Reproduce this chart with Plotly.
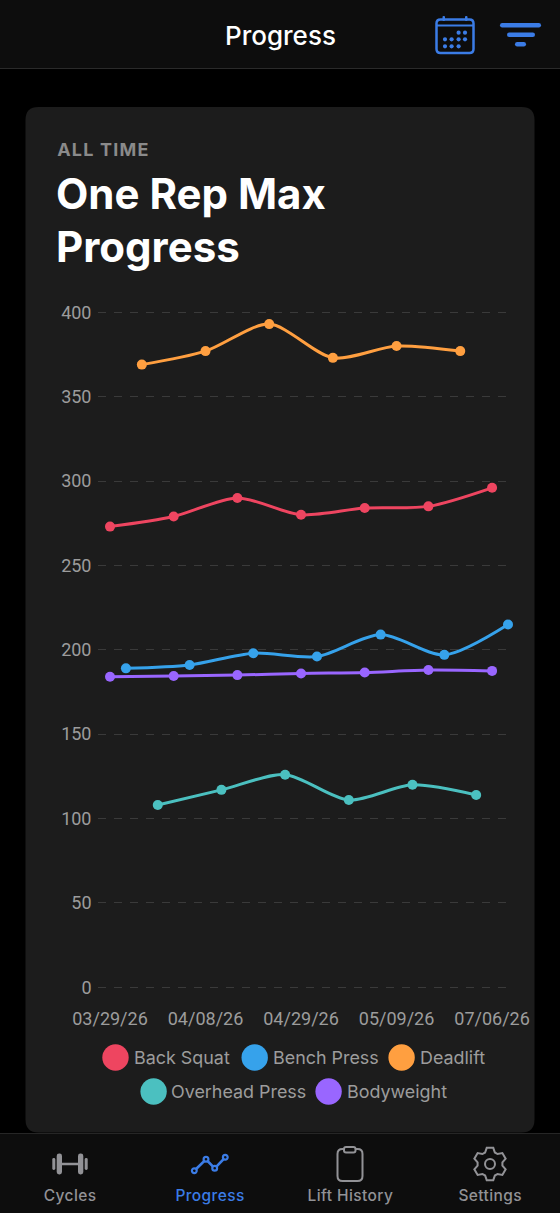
import math
import plotly.graph_objects as go

# chart data, x is the session slot on the chart's category axis
TICK_SLOTS = [0, 6, 12, 18, 24]
TICK_DATES = ["03/29/26", "04/08/26", "04/29/26", "05/09/26", "07/06/26"]
Y_TICKS = [0, 50, 100, 150, 200, 250, 300, 350, 400]

SQUAT_X = [0, 4, 8, 12, 16, 20, 24]
SQUAT_Y = [273, 279, 290, 280, 284, 285, 296]
BENCH_X = [1, 5, 9, 13, 17, 21, 25]
BENCH_Y = [189, 191, 198, 196, 209, 197, 215]
DEADLIFT_X = [2, 6, 10, 14, 18, 22]
DEADLIFT_Y = [369, 377, 393, 373, 380, 377]
OHP_X = [3, 7, 11, 15, 19, 23]
OHP_Y = [108, 117, 126, 111, 120, 114]
BODY_X = [0, 4, 8, 12, 16, 20, 24]
BODY_Y = [184, 184.5, 185, 186, 186.5, 188, 187.5]

RED = "#ee4560"
BLUE = "#36a2eb"
ORANGE = "#ff9f40"
TEAL = "#4bc0c0"
PURPLE = "#9966ff"

W = 560
H = 1213
FONT = "Inter"
TICK_FONT = "Roboto"
ACCENT = "#3b7ce6"
MUTED = "#929296"
BAR_BG = "#0d0d0d"


def px(x, y):
    return x / W, 1 - y / H


def pt(x, y):
    a, b = px(x, y)
    return f"{a:.5f} {b:.5f}"


def round_rect(x0, y0, x1, y1, r):
    return (f"M {pt(x0 + r, y0)} L {pt(x1 - r, y0)} Q {pt(x1, y0)} {pt(x1, y0 + r)} "
            f"L {pt(x1, y1 - r)} Q {pt(x1, y1)} {pt(x1 - r, y1)} "
            f"L {pt(x0 + r, y1)} Q {pt(x0, y1)} {pt(x0, y1 - r)} "
            f"L {pt(x0, y0 + r)} Q {pt(x0, y0)} {pt(x0 + r, y0)} Z")


def gear_path(cx, cy, r_out, r_in, teeth=6):
    pts = []
    step = 2 * math.pi / teeth
    for i in range(teeth):
        a = -math.pi / 2 + i * step
        for off, r in ((-0.40, r_in), (-0.20, r_out), (0.20, r_out), (0.40, r_in)):
            pts.append((cx + r * math.cos(a + off), cy + r * math.sin(a + off)))
    return "M " + " L ".join(pt(x, y) for x, y in pts) + " Z"


shapes = []


def add_path(path, fill=None, line=None, width=0):
    shapes.append(dict(type="path", xref="paper", yref="paper", layer="below", path=path,
                       fillcolor=fill or "rgba(0,0,0,0)",
                       line=dict(color=line or "rgba(0,0,0,0)", width=width)))


def add_rect(x0, y0, x1, y1, r, fill):
    add_path(round_rect(x0, y0, x1, y1, r), fill=fill)


def add_circle(cx, cy, r, fill=None, line=None, width=0):
    a0, b0 = px(cx - r, cy - r)
    a1, b1 = px(cx + r, cy + r)
    shapes.append(dict(type="circle", xref="paper", yref="paper", layer="below",
                       x0=a0, y0=b0, x1=a1, y1=b1, fillcolor=fill or "rgba(0,0,0,0)",
                       line=dict(color=line or "rgba(0,0,0,0)", width=width)))


# bars and card
add_rect(0, 0, 560, 68, 0, BAR_BG)
add_rect(0, 68, 560, 69, 0, "#2a2a2a")
add_rect(25.5, 107, 534.5, 1132.5, 13, "#1c1c1c")
add_rect(0, 1133, 560, 1213, 0, BAR_BG)
add_rect(0, 1133, 560, 1134, 0, "#262626")

# calendar icon
add_path(round_rect(436.5, 19.5, 473.5, 53, 4), line=ACCENT, width=2.5)
add_rect(436.5, 24.5, 473.5, 26.5, 0, ACCENT)
add_rect(442.5, 16, 445, 21, 1, ACCENT)
add_rect(465, 16, 467.5, 21, 1, ACCENT)
for cx, cy in [(458.6, 32.7), (465, 32.7), (445, 39.3), (451.6, 39.3), (458.6, 39.3), (465, 39.3),
               (445, 46.3), (451.6, 46.3), (458.6, 46.3)]:
    add_circle(cx, cy, 2.1, fill=ACCENT)

# filter icon
add_rect(500, 23, 541, 27.5, 2.2, ACCENT)
add_rect(507, 32.5, 535, 37, 2.2, ACCENT)
add_rect(515, 42, 526, 46.5, 2.2, ACCENT)

# dumbbell icon
add_rect(62, 1162.7, 78, 1165.3, 0, MUTED)
add_rect(52.3, 1158, 55.3, 1170, 1.4, MUTED)
add_rect(56.7, 1153.5, 62, 1174.5, 2.4, MUTED)
add_rect(78, 1153.5, 83.3, 1174.5, 2.4, MUTED)
add_rect(84.7, 1158, 87.7, 1170, 1.4, MUTED)

# progress icon
nodes = [(194.3, 1170.7), (206, 1159.3), (214.7, 1168.3), (225.3, 1157.3)]
add_path("M " + " L ".join(pt(x, y) for x, y in nodes), line=ACCENT, width=2.6)
for cx, cy in nodes:
    add_circle(cx, cy, 2.4, fill=BAR_BG, line=ACCENT, width=2.2)

# clipboard icon
add_path(round_rect(337.5, 1149, 362.5, 1181, 5), line=MUTED, width=2)
add_path(round_rect(344, 1147, 355.5, 1152.5, 2), fill=BAR_BG, line=MUTED, width=2)

# settings icon
add_path(gear_path(490, 1164, 16.5, 12.5), line=MUTED, width=2)
add_circle(490, 1164, 5, line=MUTED, width=2)

annotations = []


def add_text(text, x, y, size, color, anchor="left", weight=400):
    a, b = px(x, y)
    annotations.append(dict(text=text, xref="paper", yref="paper", x=a, y=b, xanchor=anchor,
                            yanchor="middle", showarrow=False, borderpad=0,
                            font=dict(family=FONT, size=size, color=color, weight=weight)))


add_text("Progress", 280.5, 36, 26, "#ffffff", anchor="center", weight=500)
# middle-anchored in the svg, so the letter spacing below grows it both ways
add_text("ALL TIME", 60.5, 149.5, 18, "#8a8a8a", weight=700)
add_text("One Rep Max", 55, 193, 42, "#ffffff", weight=700)
add_text("Progress", 55, 246, 42, "#ffffff", weight=700)

# legend, laid out by hand since the circles are much bigger than plotly's legend swatches
legend_items = [("Back Squat", RED, 115.5, 133, 1057.5), ("Bench Press", BLUE, 254.7, 271.5, 1057.5),
                ("Deadlift", ORANGE, 401.6, 418.5, 1057.5), ("Overhead Press", TEAL, 153.6, 170.5, 1091.5),
                ("Bodyweight", PURPLE, 328.6, 345.5, 1091.5)]
for name, color, cx, tx, cy in legend_items:
    add_circle(cx, cy, 13.2, fill=color)
    add_text(name, tx, cy, 17.9, "#9c9c9c")

for name, x, color in [("Cycles", 70, MUTED), ("Progress", 210, ACCENT),
                       ("Lift History", 350, MUTED), ("Settings", 490, MUTED)]:
    add_text(name, x, 1195.5, 15.5, color, anchor="center", weight=500)

fig = go.Figure()
series = [("Back Squat", SQUAT_X, SQUAT_Y, RED), ("Bench Press", BENCH_X, BENCH_Y, BLUE),
          ("Deadlift", DEADLIFT_X, DEADLIFT_Y, ORANGE), ("Overhead Press", OHP_X, OHP_Y, TEAL),
          ("Bodyweight", BODY_X, BODY_Y, PURPLE)]
for name, xs, ys, color in series:
    fig.add_trace(go.Scatter(x=xs, y=ys, name=name, mode="lines+markers", cliponaxis=False,
                             line=dict(color=color, width=3, shape="spline", smoothing=0.8),
                             marker=dict(color=color, size=10)))

# left edge of the grid sits 12.5px before slot 0, slot 25 is the right edge
slot_px = (508 - 110) / 25
# plotly drops gridlines at the very end of an axis, so pad the range a little on both sides
Y_PAD = 1.5
y_unit_px = (987.3 - 312.3) / 400
y_pad_px = Y_PAD * y_unit_px

fig.update_xaxes(domain=[97.5 / W, 508 / W], range=[-12.5 / slot_px, 25], automargin=False,
                 tickmode="array", tickvals=TICK_SLOTS, ticktext=TICK_DATES,
                 showgrid=False, zeroline=False, showline=False, ticks="",
                 ticklabelstandoff=16, tickfont=dict(family=TICK_FONT, size=18, color="#9c9c9c"))
fig.update_yaxes(domain=[1 - (987.3 + y_pad_px) / H, 1 - (312.3 - y_pad_px) / H],
                 range=[-Y_PAD, 400 + Y_PAD], automargin=False,
                 tickmode="array", tickvals=Y_TICKS,
                 showgrid=True, gridcolor="#3a3a3a", griddash="8px,8px", gridwidth=1,
                 zeroline=False, showline=False, ticks="", ticklabelstandoff=5,
                 tickfont=dict(family=TICK_FONT, size=18, color="#9c9c9c"))
fig.update_layout(width=W, height=H, margin=dict(l=0, r=0, t=0, b=0), showlegend=False,
                  paper_bgcolor="#000000", plot_bgcolor="rgba(0,0,0,0)",
                  shapes=shapes, annotations=annotations)

# plotly fonts have no letter spacing setting, so add it to the few labels that need it
post_js = """
document.body.style.margin='0';document.body.style.overflow='hidden';
document.querySelectorAll('.annotation-text').forEach(function(el){
  var size=parseFloat(el.style.fontSize);
  if(el.textContent==='ALL TIME'){el.style.letterSpacing='1.2px';}
  if(size===15.5){el.style.letterSpacing='0.4px';}
});
"""
fig.write_html("out.html", config=dict(displayModeBar=False), post_script=post_js)
